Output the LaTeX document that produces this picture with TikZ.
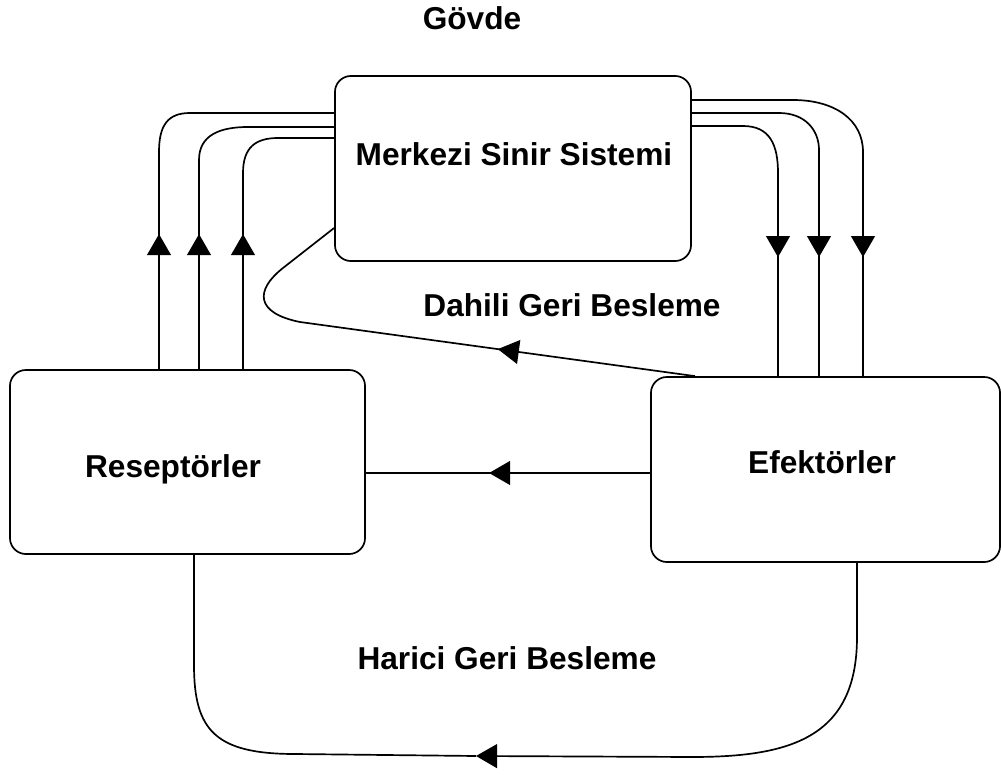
\documentclass[tikz,border=0pt]{standalone}
\usepackage{fontspec}
\setmainfont{Liberation Sans}
\usetikzlibrary{arrows.meta,decorations.markings}
\tikzstyle{box}=[draw, line width=1.2pt, rounded corners=0.4cm]
\tikzstyle{lbl}=[font=\fontsize{22.5}{27}\selectfont\bfseries, anchor=base]
\tikzstyle{wire}=[line width=1.2pt]
\tikzset{flow/.style={wire, postaction={decorate}, decoration={markings, mark=at position #1 with {\arrow{Triangle[width=17pt,length=15pt]}}}}}

\begin{document}
\begin{tikzpicture}[x=0.025cm, y=-0.025cm]
\useasboundingbox (0,0) rectangle (1001,775);
\node[box, minimum width=8.9cm, minimum height=4.625cm] (mss) at (513,168.5) {};
\node[box, minimum width=8.875cm, minimum height=4.6cm] (res) at (187.5,462) {};
\node[box, minimum width=8.725cm, minimum height=4.625cm] (efk) at (825.5,469.5) {};
\node[lbl] (govde) at (472,30) {Gövde};
\node[lbl] (msslbl) at (514,165) {Merkezi Sinir Sistemi};
\node[lbl] (reslbl) at (173,477) {Reseptörler};
\node[lbl] (efklbl) at (822,473) {Efektörler};
\node[lbl] (dahili) at (572,316) {Dahili Geri Besleme};
\node[lbl] (harici) at (507,669) {Harici Geri Besleme};
\draw[flow=3.375cm] (159,0 |- res.north) -- (159,152) .. controls (159,125) and (168,113) .. (190,113) -- (mss.west |- 0,113);
\draw[flow=3.375cm] (199,0 |- res.north) -- (199,160) .. controls (199,135) and (220,127) .. (248,127) -- (mss.west |- 0,127);
\draw[flow=3.375cm] (243,0 |- res.north) -- (243,173) .. controls (243,148) and (255,138) .. (278,138) -- (mss.west |- 0,138);
\draw[flow=-2.975cm] (mss.east |- 0,100) -- (793,100) .. controls (835,100) and (863,120) .. (863,152) -- (863,0 |- efk.north);
\draw[flow=-2.975cm] (mss.east |- 0,113) -- (779,113) .. controls (805,113) and (819,130) .. (819,150) -- (819,0 |- efk.north);
\draw[flow=-2.975cm] (mss.east |- 0,126) -- (743,126) .. controls (770,126) and (778,145) .. (778,173) -- (778,0 |- efk.north);
\draw[flow=4.975cm] (695,0 |- efk.north) -- (300,322) .. controls (255,313) and (255,290) .. (283,268) -- (mss.west |- 0,228);
\draw[flow=4.025cm] (efk.west |- 0,473) -- (res.east |- 0,473);
\coordinate (hb) at (476,756);
\draw[wire, -{Triangle[width=17pt,length=15pt]}] (857,0 |- efk.south) -- (857,637) .. controls (857,738) and (790,757) .. (692,757) -- (hb);
\draw[wire] (hb) -- (295,754) .. controls (215,754) and (194,730) .. (194,665) -- (194,0 |- res.south);
\end{tikzpicture}
\end{document}
